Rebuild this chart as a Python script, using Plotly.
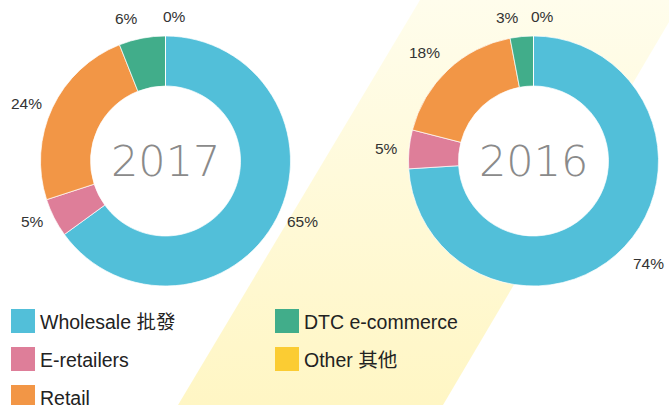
import math
import plotly.graph_objects as go

# Sales channel mix, shares in percent
channels = ["Wholesale 批發", "E-retailers", "Retail", "DTC e-commerce", "Other 其他"]
colors = ["#52BFD9", "#DE7E99", "#F29646", "#41AD8A", "#FBCC33"]
years = ["2017", "2016"]
share_2017 = [65, 5, 24, 6, 0]
share_2016 = [74, 5, 18, 3, 0]

W, H = 669, 405
R = 125  # outer radius, px
HOLE = 0.6
centers = {"2017": (165.5, 161), "2016": (533.5, 161)}
values = {"2017": share_2017, "2016": share_2016}


def pie_domain(cx, cy, r):
    return dict(x=[(cx - r) / W, (cx + r) / W], y=[(H - cy - r) / H, (H - cy + r) / H])


fig = go.Figure()

# yellow band behind everything (vertical gradient)
fig.add_trace(
    go.Scatter(
        x=[420, 682, 443, 178, 420],
        y=[H, H, 0, 0, H],
        mode="lines",
        fill="toself",
        fillgradient=dict(
            type="vertical",
            colorscale=[[0, "#FFF6C4"], [1, "#FFFDEC"]],
        ),
        line=dict(width=0),
        hoverinfo="skip",
        showlegend=False,
    )
)

for year in years:
    cx, cy = centers[year]
    vals = values[year]
    # white disc so the donut hole stays white over the band
    fig.add_trace(
        go.Pie(
            values=[1], labels=[""], marker=dict(colors=["white"]),
            textinfo="none", hoverinfo="skip", showlegend=False, sort=False,
            domain=pie_domain(cx, cy, R * HOLE + 1),
        )
    )
    fig.add_trace(
        go.Pie(
            labels=channels,
            values=vals,
            sort=False,
            direction="clockwise",
            rotation=0,
            hole=HOLE,
            marker=dict(colors=colors, line=dict(color="white", width=0.7)),
            textinfo="none",
            domain=pie_domain(cx, cy, R),
            showlegend=False,
            hoverinfo="label+percent",
        )
    )
    fig.add_annotation(
        x=cx / W, y=1 - cy / H, xref="paper", yref="paper",
        xanchor="center", yanchor="middle",
        text=year, showarrow=False,
        font=dict(family="DejaVu Sans", size=43, color="#8a8a8a", weight=200),
    )

    # percent labels just outside each slice, at its middle angle
    total = sum(vals)
    cum = 0
    for v in vals:
        mid = (cum + v / 2) / total * 2 * math.pi
        cum += v
        s, c = math.sin(mid), math.cos(mid)
        rl = R + 9
        lx, ly = cx + rl * s, cy - rl * c
        if abs(s) < 0.01:
            xa, lx = "left", cx - 5
        else:
            xa = "left" if s > 0 else "right"
        ya = "bottom" if c > 0.5 else ("top" if c < -0.5 else "middle")
        fig.add_annotation(
            x=lx / W, y=1 - ly / H, xref="paper", yref="paper",
            xanchor=xa, yanchor=ya, text=f"{v}%", showarrow=False,
            font=dict(family="Liberation Sans, Arial", size=15.5, color="#333333"),
        )

# custom legend in two columns
legend_cols = [(11, [0, 1, 2]), (275, [3, 4])]
for x0, idxs in legend_cols:
    for row, i in enumerate(idxs):
        y0 = 309 + row * 38
        fig.add_shape(
            type="rect", xref="paper", yref="paper",
            x0=x0 / W, x1=(x0 + 24) / W,
            y0=1 - (y0 + 24) / H, y1=1 - y0 / H,
            fillcolor=colors[i], line=dict(width=0),
        )
        fig.add_annotation(
            x=(x0 + 27) / W, y=1 - (y0 + 13) / H, xref="paper", yref="paper",
            text=channels[i], showarrow=False, xanchor="left", yanchor="middle",
            font=dict(family="Liberation Sans, Noto Sans CJK TC", size=19.5, color="#222222"),
        )

fig.update_layout(
    width=W, height=H,
    margin=dict(l=0, r=0, t=0, b=0),
    paper_bgcolor="white",
    plot_bgcolor="white",
    xaxis=dict(range=[0, W], visible=False, fixedrange=True),
    yaxis=dict(range=[0, H], visible=False, fixedrange=True),
)

fig.write_html(
    "out.html",
    config={"displayModeBar": False},
    post_script="document.body.style.margin='0';",
)
